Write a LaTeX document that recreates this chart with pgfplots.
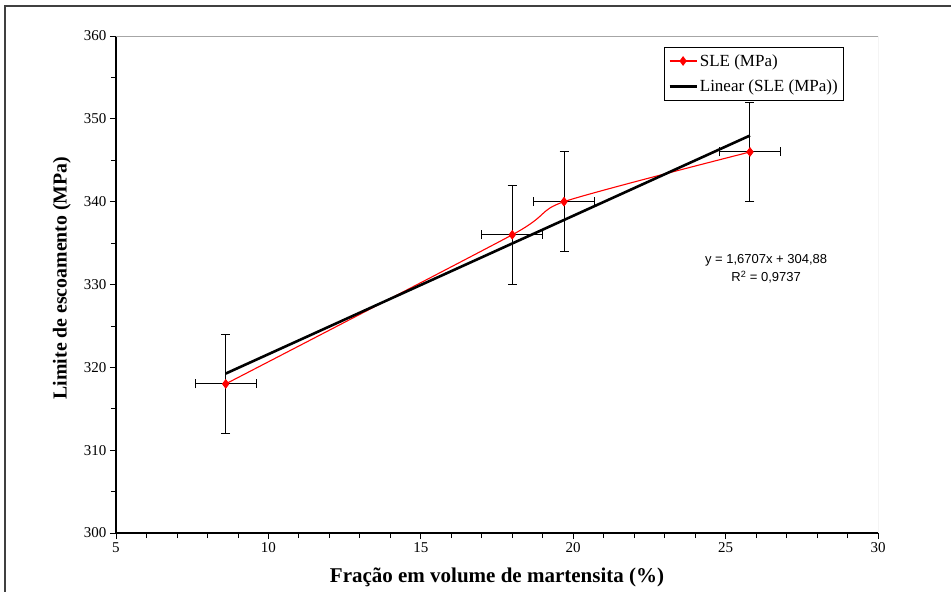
\documentclass[border=0pt]{standalone}
\usepackage{pgfplots}
\pgfplotsset{compat=1.18}
\usepackage{fontspec}
\setmainfont{Liberation Serif}
\newfontfamily\arial{Liberation Sans}
\begin{document}
\begin{tikzpicture}[x=1pt,y=1pt]
\useasboundingbox (-116,-59) rectangle (835,533);
\draw[black!75, line width=1.5pt] (-111,-62) -- (-111,527) -- (840,527);
\begin{axis}[
  at={(0,0)}, anchor=south west,
  scale only axis, width=762pt, height=497pt,
  xmin=5, xmax=30, ymin=300, ymax=360,
  xtick={5,10,...,30}, ytick={300,310,...,360},
  minor x tick num=4, minor y tick num=1,
  axis x line*=bottom, axis y line*=left,
  axis line style={-, black, line width=1.1pt},
  tick align=outside,
  major tick length=6pt, minor tick length=5pt,
  tick style={black, line width=0.8pt},
  ticklabel style={font=\fontsize{15}{15}\selectfont},
  /pgf/number format/assume math mode=true,
  xlabel={Fração em volume de martensita (\%)},
  ylabel={Limite de escoamento (MPa)},
  xlabel style={font=\fontsize{21}{21}\selectfont\bfseries, at={(axis description cs:0.5,-0.0885)}, anchor=center},
  ylabel style={font=\fontsize{19.8}{21}\selectfont\bfseries, at={(axis description cs:-0.0709,0.513)}, anchor=center},
  legend style={at={(rel axis cs:0.719,0.978)}, anchor=north west, draw=black, line width=0.8pt,
    font=\fontsize{17}{17}\selectfont, inner xsep=4pt, inner ysep=5pt, row sep=8pt},
  legend cell align=left,
  legend image code/.code={\draw[mark repeat=2,mark phase=2,#1] plot coordinates {(0pt,0pt) (13.5pt,0pt) (27pt,0pt)};},
]
\draw[gray!70, line width=1pt] (rel axis cs:0,1) -- (rel axis cs:1,1) -- (rel axis cs:1,0);
\addplot[red, line width=1.1pt, smooth, tension=0.4, mark=diamond*, mark size=4pt, mark options={red, solid},
  error bars/.cd, x dir=both, x explicit, y dir=both, y explicit,
  error bar style={black, line width=1pt},
  error mark options={black, mark size=4.5pt, line width=1pt, rotate=90}]
  table[x=x, y=y, x error=ex, y error=ey] {
x y ex ey
8.6 318 1 6
18 336 1 6
19.7 340 1 6
25.8 346 1 6
};
\addlegendentry{SLE (MPa)}
\addplot[black, line width=2.6pt] coordinates {(8.6,319.248) (25.8,347.984)};
\addlegendentry{Linear (SLE (MPa))}
\addplot[only marks, red, mark=diamond*, mark size=4pt, forget plot] coordinates {(8.6,318) (18,336) (19.7,340) (25.8,346)};
\node[font=\arial\fontsize{13}{18}\selectfont, align=center] at (axis cs:26.33,331.9) {y = 1,6707x + 304,88\\R\textsuperscript{2} = 0,9737};
\end{axis}
\end{tikzpicture}
\end{document}
